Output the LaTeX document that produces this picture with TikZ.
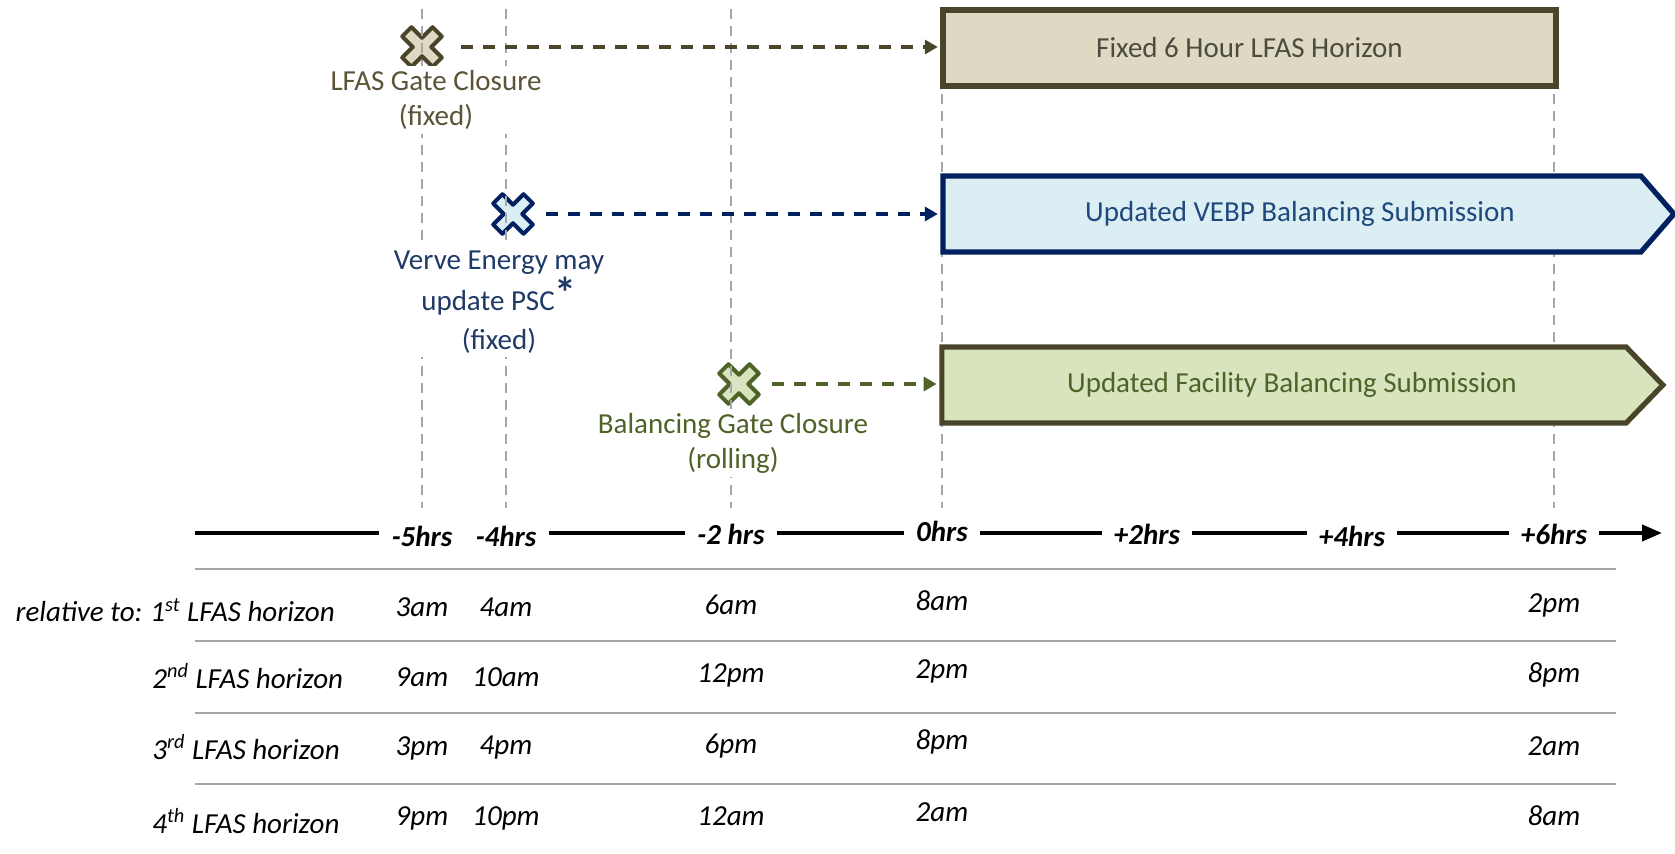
\documentclass[tikz,border=0pt]{standalone}
\usepackage{fontspec}
\setmainfont{Carlito}
\usetikzlibrary{arrows.meta,shapes.symbols,positioning}

\definecolor{tanfill}{HTML}{DDD9C3}
\definecolor{tanline}{HTML}{4A452A}
\definecolor{tantext}{HTML}{5B5436}
\definecolor{fixtext}{HTML}{4D4B3F}
\definecolor{bluefill}{HTML}{DBEEF4}
\definecolor{blueline}{HTML}{002060}
\definecolor{bluetext}{HTML}{1F497D}
\definecolor{psctext}{HTML}{1F3A68}
\definecolor{greenfill}{HTML}{D7E4BD}
\definecolor{greenline}{HTML}{4F6228}
\definecolor{gridgray}{HTML}{A6A6A6}

\tikzset{%
  % Specifications for style of nodes:
  txt/.style       = {font=\fontsize{14.5}{17.5}\selectfont, align=center, inner sep=2pt},
  gatelabel/.style = {txt, fill=white},
  fixbox/.style    = {rectangle, draw=tanline, fill=tanfill, text=fixtext, line width=2.6pt, minimum width=306.5pt, minimum height=38pt, txt},
  subbox/.style    = {signal, signal to=east, line width=2.6pt, minimum height=38pt, txt},
  axislabel/.style = {txt, font=\fontsize{14.5}{17.5}\selectfont\bfseries\itshape, inner sep=6pt},
  rowtext/.style   = {txt, font=\fontsize{14.5}{17.5}\selectfont\itshape},
  % Specifications for style of lines:
  gridline/.style  = {draw=gridgray, line width=1pt, dash pattern=on 5pt off 3.5pt},
  gatearrow/.style = {line width=1.6pt, dash pattern=on 6pt off 5pt, shorten >=1.3pt, -{Triangle[length=6.5pt,width=7pt]}},
  axisline/.style  = {line width=2pt},
  rowline/.style   = {draw=gridgray, line width=1pt},
  % Gate closure cross
  pics/gatex/.style = {code={
    \path[pic actions, rotate=45, line width=2pt, line join=round]
      (6.5,6.5) -- (6.5,21.5) -- (-6.5,21.5) -- (-6.5,6.5) -- (-21.5,6.5) -- (-21.5,-6.5)
      -- (-6.5,-6.5) -- (-6.5,-21.5) -- (6.5,-21.5) -- (6.5,-6.5) -- (21.5,-6.5) -- (21.5,6.5) -- cycle;
    \coordinate (-e) at (21,0);
  }},
}

\begin{document}
\begin{tikzpicture}[x=0.5pt, y=-0.5pt]
    \useasboundingbox (0,0) rectangle (1675,854);

    % Draw gate closures
    \pic[draw=tanline, fill=tanfill]     (lgc) at (422,47)  {gatex};
    \pic[draw=blueline, fill=bluefill]   (psc) at (513,214) {gatex};
    \pic[draw=greenline, fill=greenfill] (bgc) at (739,384) {gatex};

    % Draw time grid
    \foreach \x in {422,506,731,942,1554}
        \draw[gridline] (\x,9) -- (\x,508);

    % Draw nodes
    \node (lgclabel) [gatelabel, text=tantext]   at (436,100) {LFAS Gate Closure\\(fixed)};
    \node (psclabel) [gatelabel, text=psctext]   at (499,302) {Verve Energy may\\update PSC\raisebox{1pt}{\fontsize{22}{22}\selectfont\bfseries*}\\[2pt](fixed)};
    \node (bgclabel) [gatelabel, text=greenline] at (733,443) {Balancing Gate Closure\\(rolling)};

    \node (horizon)  [fixbox] at (1249.5,48) {Fixed 6 Hour LFAS Horizon};
    \node (vebp)     [subbox, draw=blueline, fill=bluefill, text=bluetext, minimum width=365.5pt, signal pointer angle=98] at (1292,214) {\hspace{8pt}Updated VEBP Balancing Submission};
    \node (facility) [subbox, draw=tanline, fill=greenfill, text=greenline, minimum width=360.5pt, signal pointer angle=92] at (1284,385) {\hspace{8pt}Updated Facility Balancing Submission};

    % Draw arrows
    \draw[gatearrow, tanline, shorten <=9pt] (lgc-e) -- (lgc-e -| horizon.west);
    \draw[gatearrow, blueline, shorten <=6pt] (psc-e) -- (psc-e -| vebp.west);
    \draw[gatearrow, greenline, shorten <=6pt] (bgc-e) -- (bgc-e -| facility.west);

    % Draw time axis
    \node (mfive) [axislabel] at (422,536)  {-5hrs};
    \node (mfour) [axislabel] at (506,536)  {-4hrs};
    \node (mtwo)  [axislabel] at (731,534)  {-2 hrs};
    \node (zero)  [axislabel] at (942,531)  {0hrs};
    \node (ptwo)  [axislabel] at (1147,534) {+2hrs};
    \node (pfour) [axislabel] at (1352,536) {+4hrs};
    \node (psix)  [axislabel] at (1554,534) {+6hrs};
    \coordinate (axstart) at (195,533);
    \coordinate (axend)   at (1662,533);

    \draw[axisline] (axstart) -- (axstart -| mfive.west);
    \foreach \a/\b in {mfour/mtwo, mtwo/zero, zero/ptwo, ptwo/pfour, pfour/psix}
        \draw[axisline] (\a.east |- axstart) -- (\b.west |- axstart);
    \draw[axisline, -{Triangle[length=10pt,width=8pt]}] (psix.east |- axstart) -- (axend);

    % Draw table
    \foreach \y in {569,641,713,784}
        \draw[rowline] (195,\y) -- (1616,\y);

    \node (rowa) [rowtext, anchor=west] at (146,610) {\llap{relative to:\hspace{4pt}}1\textsuperscript{st} LFAS horizon};
    \node (rowb) [rowtext, anchor=west] at (148,676) {2\textsuperscript{nd} LFAS horizon};
    \node (rowc) [rowtext, anchor=west] at (148,747) {3\textsuperscript{rd} LFAS horizon};
    \node (rowd) [rowtext, anchor=west] at (148,821) {4\textsuperscript{th} LFAS horizon};

    \foreach \x/\dy/\ra/\rb/\rc/\rd in {422/2/3am/9am/3pm/9pm, 506/2/4am/10am/4pm/10pm,
                                        731/0/6am/12pm/6pm/12am, 942/-4/8am/2pm/8pm/2am,
                                        1554/0/2pm/8pm/2am/8am} {
        \node (v\x a) [rowtext] at (\x,605+\dy) {\ra};
        \node (v\x b) [rowtext] at (\x,675+\dy) {\rb};
        \node (v\x c) [rowtext] at (\x,746+\dy) {\rc};
        \node (v\x d) [rowtext] at (\x,816+\dy) {\rd};
    }
\end{tikzpicture}
\end{document}
